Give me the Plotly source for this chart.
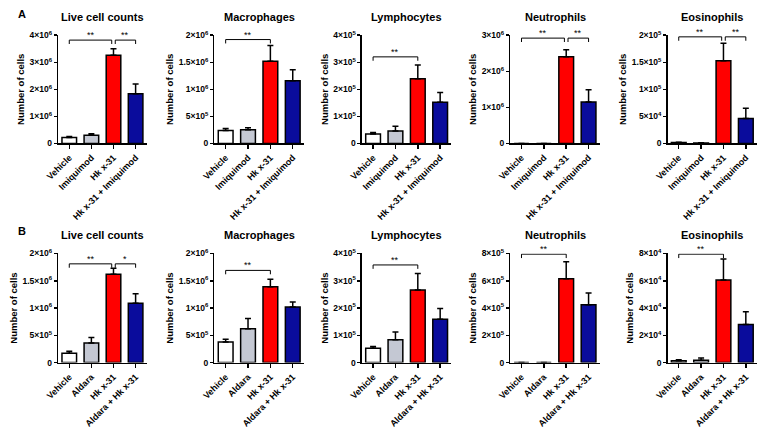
import plotly.graph_objects as go

W, H = 757, 429

cats_A = ["Vehicle", "Imiquimod", "Hk x-31", "Hk x-31 + Imiquimod"]
cats_B = ["Vehicle", "Aldara", "Hk x-31", "Aldara + Hk x-31"]
titles = ["Live cell counts", "Macrophages", "Lymphocytes", "Neutrophils", "Eosinophils"]

# Row A (Imiquimod)
A_live = [0.22e6, 0.30e6, 3.26e6, 1.84e6]
A_live_err = [0.03e6, 0.06e6, 0.24e6, 0.36e6]
A_mac = [0.24e6, 0.25e6, 1.52e6, 1.16e6]
A_mac_err = [0.035e6, 0.04e6, 0.29e6, 0.20e6]
A_lym = [0.35e5, 0.46e5, 2.39e5, 1.52e5]
A_lym_err = [0.05e5, 0.17e5, 0.51e5, 0.36e5]
A_neu = [0.0, 0.0, 2.40e6, 1.15e6]
A_neu_err = [0.0, 0.0, 0.20e6, 0.34e6]
A_eos = [1.5e3, 0.8e3, 1.53e5, 0.46e5]
A_eos_err = [0.8e3, 0.3e3, 0.32e5, 0.19e5]

# Row B (Aldara)
B_live = [0.17e6, 0.36e6, 1.62e6, 1.09e6]
B_live_err = [0.04e6, 0.10e6, 0.11e6, 0.17e6]
B_mac = [0.38e6, 0.62e6, 1.39e6, 1.02e6]
B_mac_err = [0.05e6, 0.19e6, 0.14e6, 0.09e6]
B_lym = [0.53e5, 0.84e5, 2.66e5, 1.59e5]
B_lym_err = [0.06e5, 0.28e5, 0.61e5, 0.39e5]
B_neu = [0.0, 0.0, 6.15e5, 4.25e5]
B_neu_err = [0.0, 0.0, 1.25e5, 0.85e5]
B_eos = [1.3e3, 1.8e3, 6.05e4, 2.8e4]
B_eos_err = [0.8e3, 1.6e3, 1.55e4, 0.93e4]

# y tick values / labels
tv_4e6 = [0, 1e6, 2e6, 3e6, 4e6]
tl_4e6 = ["0", "1×10<sup>6</sup>", "2×10<sup>6</sup>", "3×10<sup>6</sup>", "4×10<sup>6</sup>"]
tv_2e6 = [0, 5e5, 1e6, 1.5e6, 2e6]
tl_2e6 = ["0", "5×10<sup>5</sup>", "1×10<sup>6</sup>", "1.5×10<sup>6</sup>", "2×10<sup>6</sup>"]
tv_4e5 = [0, 1e5, 2e5, 3e5, 4e5]
tl_4e5 = ["0", "1×10<sup>5</sup>", "2×10<sup>5</sup>", "3×10<sup>5</sup>", "4×10<sup>5</sup>"]
tv_3e6 = [0, 1e6, 2e6, 3e6]
tl_3e6 = ["0", "1×10<sup>6</sup>", "2×10<sup>6</sup>", "3×10<sup>6</sup>"]
tv_2e5 = [0, 5e4, 1e5, 1.5e5, 2e5]
tl_2e5 = ["0", "5×10<sup>4</sup>", "1×10<sup>5</sup>", "1.5×10<sup>5</sup>", "2×10<sup>5</sup>"]
tv_8e5 = [0, 2e5, 4e5, 6e5, 8e5]
tl_8e5 = ["0", "2×10<sup>5</sup>", "4×10<sup>5</sup>", "6×10<sup>5</sup>", "8×10<sup>5</sup>"]
tv_8e4 = [0, 2e4, 4e4, 6e4, 8e4]
tl_8e4 = ["0", "2×10<sup>4</sup>", "4×10<sup>4</sup>", "6×10<sup>4</sup>", "8×10<sup>4</sup>"]

# significance brackets: (from, to, level, label)
A_live_sig = [(0, 1.92, 3.82e6, "**"), (2.08, 3, 3.82e6, "**")]
A_mac_sig = [(0, 2, 1.92e6, "**")]
A_lym_sig = [(0, 2, 3.2e5, "**")]
A_neu_sig = [(0, 1.92, 2.92e6, "**"), (2.08, 3, 2.92e6, "**")]
A_eos_sig = [(0, 1.92, 1.97e5, "**"), (2.08, 3, 1.97e5, "**")]
B_live_sig = [(0, 1.92, 1.81e6, "**"), (2.08, 3, 1.81e6, "*")]
B_mac_sig = [(0, 2, 1.69e6, "**")]
B_lym_sig = [(0, 2, 3.58e5, "**")]
B_neu_sig = [(0, 2, 7.95e5, "**")]
B_eos_sig = [(0, 2, 7.95e4, "**")]

colors = ["#ffffff", "#c4c8d3", "#ff0000", "#0a0c9c"]

panels = [
    (cats_A, A_live, A_live_err, tv_4e6, tl_4e6, A_live_sig),
    (cats_A, A_mac, A_mac_err, tv_2e6, tl_2e6, A_mac_sig),
    (cats_A, A_lym, A_lym_err, tv_4e5, tl_4e5, A_lym_sig),
    (cats_A, A_neu, A_neu_err, tv_3e6, tl_3e6, A_neu_sig),
    (cats_A, A_eos, A_eos_err, tv_2e5, tl_2e5, A_eos_sig),
    (cats_B, B_live, B_live_err, tv_2e6, tl_2e6, B_live_sig),
    (cats_B, B_mac, B_mac_err, tv_2e6, tl_2e6, B_mac_sig),
    (cats_B, B_lym, B_lym_err, tv_4e5, tl_4e5, B_lym_sig),
    (cats_B, B_neu, B_neu_err, tv_8e5, tl_8e5, B_neu_sig),
    (cats_B, B_eos, B_eos_err, tv_8e4, tl_8e4, B_eos_sig),
]

col_px = [(46, 136), (205, 296), (355, 446), (506, 597), (666, 757)]
row_px = [(30, 141), (254, 366)]
title_y_px = [11, 235]

fig = go.Figure()
FONT = "Liberation Sans, Arial, sans-serif"
layout = {}
annotations = []
shapes = []

for k, (cats, vals, errs, tv, tl, sig) in enumerate(panels):
    r, c = divmod(k, 5)
    n = k + 1
    xname = "x" if n == 1 else f"x{n}"
    yname = "y" if n == 1 else f"y{n}"
    x0p, x1p = col_px[c]
    y0p, y1p = row_px[r]
    xs = list(range(len(cats)))
    fig.add_trace(go.Bar(
        x=xs, y=vals, xaxis=xname, yaxis=yname, width=0.66,
        marker=dict(color=colors, line=dict(color="black", width=1.5)),
        error_y=dict(type="data", array=errs, arrayminus=[0] * len(errs), symmetric=False,
                     color="black", thickness=1.5, width=3),
        showlegend=False, hoverinfo="skip",
    ))
    ymax = tv[-1]
    layout["xaxis" if n == 1 else f"xaxis{n}"] = dict(
        domain=[x0p / W, x1p / W], anchor=yname, range=[-0.5, 3.5],
        tickvals=xs, ticktext=cats, tickangle=-45,
        tickfont=dict(family=FONT, size=9, color="black", weight="bold"),
        showline=True, linecolor="black", linewidth=1.5,
        ticks="outside", ticklen=4, tickwidth=1.5, tickcolor="black",
        showgrid=False, zeroline=False, fixedrange=True,
    )
    layout["yaxis" if n == 1 else f"yaxis{n}"] = dict(
        domain=[1 - y1p / H, 1 - y0p / H], anchor=xname, range=[0, ymax],
        tickvals=tv, ticktext=tl,
        tickfont=dict(family=FONT, size=8.5, color="black", weight="bold"),
        showline=True, linecolor="black", linewidth=1.5,
        ticks="outside", ticklen=3, tickwidth=1.5, tickcolor="black",
        showgrid=False, zeroline=False, fixedrange=True,
        title=dict(text="Number of cells", standoff=3,
                   font=dict(family=FONT, size=9.5, color="black", weight="bold")),
    )
    annotations.append(dict(
        text=f"<b>{titles[c]}</b>", x=(x0p + x1p) / 2 / W, y=1 - title_y_px[r] / H,
        xref="paper", yref="paper", xanchor="center", yanchor="middle", showarrow=False,
        font=dict(family=FONT, size=11, color="black"),
    ))
    drop = ymax * 4 / (y1p - y0p)
    for (a, b, lev, lab) in sig:
        shapes.append(dict(
            type="path", xref=xname, yref=yname,
            path=f"M {a},{lev - drop} L {a},{lev} L {b},{lev} L {b},{lev - drop}",
            line=dict(color="black", width=1),
        ))
        annotations.append(dict(
            text=lab, x=(a + b) / 2, y=lev, xref=xname, yref=yname,
            xanchor="center", yanchor="bottom", yshift=-2, showarrow=False,
            font=dict(family=FONT, size=9, color="black"),
        ))

annotations.append(dict(text="<b>A</b>", x=3 / W, y=1 - 8 / H, xref="paper", yref="paper",
                        xanchor="left", yanchor="middle", showarrow=False,
                        font=dict(family=FONT, size=11, color="black")))
annotations.append(dict(text="<b>B</b>", x=3 / W, y=1 - 231 / H, xref="paper", yref="paper",
                        xanchor="left", yanchor="middle", showarrow=False,
                        font=dict(family=FONT, size=11, color="black")))

fig.update_layout(
    width=W, height=H, margin=dict(l=0, r=0, t=0, b=0),
    paper_bgcolor="white", plot_bgcolor="white",
    showlegend=False, bargap=0.3, hovermode=False,
    annotations=annotations, shapes=shapes,
    **layout,
)

fig.write_html("out.html", config={"displayModeBar": False, "staticPlot": True},
               post_script="document.body.style.margin='0';document.body.style.padding='0';")
